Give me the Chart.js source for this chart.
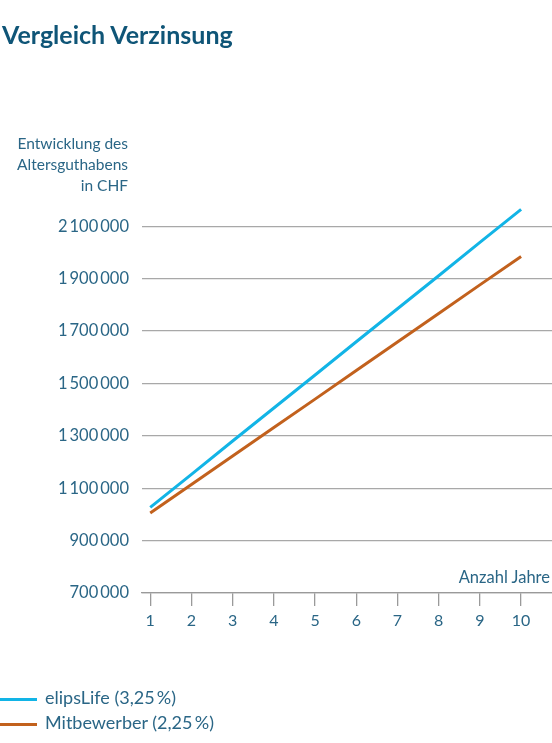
<!DOCTYPE html>
<html>
<head>
<meta charset="utf-8">
<script src="https://cdn.jsdelivr.net/npm/chart.js@4"></script>
<style>
  body { margin: 0; background: #fff; font-family: Lato, sans-serif; }
  #wrap { position: relative; width: 552px; height: 743px; }
  #title { position: absolute; left: 2px; top: 19px; font-size: 25px; font-weight: bold; color: #0f5577; }
  #ylab { position: absolute; right: 424px; top: 133px; text-align: right; font-size: 15.5px; line-height: 21px; color: #2a6686; }
  #xlab { position: absolute; right: 2px; top: 567px; font-size: 16.5px; color: #2a6686; }
  #legend { position: absolute; left: 0; top: 685px; font-size: 18px; color: #2a6686; line-height: 25px; }
  #legend span.sw { display: inline-block; width: 37px; height: 3px; vertical-align: middle; margin-right: 8px; }
  canvas { position: absolute; left: 0; top: 0; }
</style>
</head>
<body>
<div id="wrap">
  <canvas id="c" width="552" height="743"></canvas>
  <div id="title">Vergleich Verzinsung</div>
  <div id="ylab">Entwicklung des<br>Altersguthabens<br>in CHF</div>
  <div id="xlab">Anzahl Jahre</div>
  <div id="legend"></div>
</div>
<script>
const years = [1, 2, 3, 4, 5, 6, 7, 8, 9, 10];
const elipsLife = [1027000, 1153000, 1280000, 1406000, 1532000, 1659000, 1785000, 1911000, 2038000, 2164000];
const mitbewerber = [1005000, 1114000, 1223000, 1332000, 1440000, 1549000, 1658000, 1767000, 1876000, 1984000];
const yTicks = [700000, 900000, 1100000, 1300000, 1500000, 1700000, 1900000, 2100000];

const series = [
  { label: "elipsLife (3,25\u2009%)", data: elipsLife, color: "#12b4e6" },
  { label: "Mitbewerber (2,25\u2009%)", data: mitbewerber, color: "#c2611d" },
];

const fmt = (v) => v.toLocaleString("en-US").replace(/,/g, "\u2009");

new Chart(document.getElementById("c"), {
  type: "line",
  data: {
    datasets: series.map((s) => ({
      label: s.label,
      data: s.data.map((v, i) => ({ x: years[i], y: v })),
      borderColor: s.color,
      borderWidth: 3,
      pointRadius: 0,
      tension: 0,
    })),
  },
  options: {
    responsive: false,
    animation: false,
    layout: { padding: { top: 200, left: 0, right: 0, bottom: 0 } },
    plugins: { legend: { display: false }, tooltip: { enabled: false } },
    scales: {
      x: {
        type: "linear",
        min: 0.8,
        max: 10.75,
        afterBuildTicks: (ax) => { ax.ticks = years.map((v) => ({ value: v })); },
        afterFit: (ax) => { ax.height = 150; },
        grid: { drawOnChartArea: false, drawTicks: true, tickLength: 13, color: "#9a9a9a", lineWidth: 1.3 },
        border: { display: true, color: "#9a9a9a", width: 1.3 },
        ticks: { color: "#2a6686", font: { family: "Lato", size: 16 }, padding: 5, maxRotation: 0 },
      },
      y: {
        min: 700000,
        max: 2200000,
        afterBuildTicks: (ax) => { ax.ticks = yTicks.map((v) => ({ value: v })); },
        afterFit: (ax) => { ax.width = 142; },
        grid: { drawTicks: false, color: "#a8a8a8", lineWidth: 1.3 },
        border: { display: false },
        ticks: { color: "#2a6686", font: { family: "Lato", size: 16.5 }, padding: 13, callback: (v) => fmt(v) },
      },
    },
  },
});

document.getElementById("legend").innerHTML = series
  .map((s) => `<div><span class="sw" style="background:${s.color}"></span>${s.label}</div>`)
  .join("");
</script>
</body>
</html>
